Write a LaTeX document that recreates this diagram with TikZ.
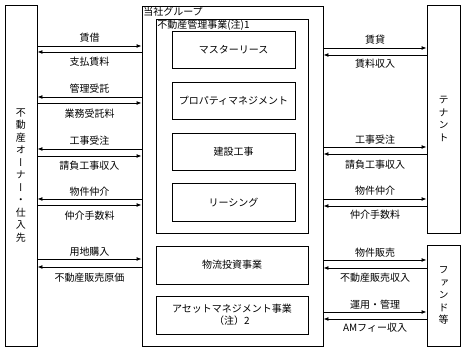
\documentclass[tikz,border=0pt]{standalone}
\usepackage{fontspec}
\setmainfont{Noto Sans CJK JP}
\newfontfamily\tatefont[RawFeature=+vert]{Noto Sans CJK JP}
\usetikzlibrary{arrows.meta}
\begin{document}
\begin{tikzpicture}[
                x=1pt, y=-1pt,
                every node/.style={
                        inner sep=0pt,
                        font=\fontsize{10}{12}\selectfont
                    },
                box/.style={draw, line width=0.9pt, align=center},
                tate/.style={
                        box,
                        font=\tatefont\fontsize{10}{12.5}\selectfont
                    },
                tag/.style={anchor=north west, inner sep=1.5pt},
                flow/.style={draw, line width=0.9pt, -{Latex[length=5pt, width=4pt]}}
            ]

            \useasboundingbox (0, 0) rectangle (464, 352);

            % outside parties
            \node[tate, minimum width=32, minimum height=341] (owner) at (21, 175.5)
                {不\\動\\産\\オ\\ー\\ナ\\ー\\・\\仕\\入\\先};
            \node[tate, minimum width=33, minimum height=228] (tenant) at (443.5, 119)
                {テ\\ナ\\ン\\ト};
            \node[tate, minimum width=33, minimum height=101] (fund) at (443.5, 295.5)
                {フ\\ァ\\ン\\ド\\等};

            % group
            \node[box, minimum width=181, minimum height=340] (group) at (232.5, 176) {};
            \node[tag] (grouptag) at (group.north west) {当社グループ};

            \node[box, minimum width=152, minimum height=214] (pm) at (232, 126) {};
            \node[tag] (pmtag) at (pm.north west) {不動産管理事業(注)1};

            \node[box, minimum width=123, minimum height=37] (master) at (233.5, 49.5) {マスターリース};
            \node[box, minimum width=123, minimum height=37] (property) at (233.5, 100.5) {プロパティマネジメント};
            \node[box, minimum width=123, minimum height=37] (build) at (233.5, 151.5) {建設工事};
            \node[box, minimum width=123, minimum height=38] (leasing) at (233.5, 202.5) {リーシング};

            \node[box, minimum width=152, minimum height=38] (logi) at (232, 265) {物流投資事業};
            \node[box, minimum width=152, minimum height=38] (am) at (232, 315)
                {アセットマネジメント事業\\（注）2};

            % owner side
            \draw[flow] (owner.east |- 0,46) -- (group.west |- 0,46);
            \draw[flow] (group.west |- 0,52) -- (owner.east |- 0,52);
            \node (l1) at (89.5, 38) {賃借};
            \node (l2) at (89.5, 62) {支払賃料};

            \draw[flow] (group.west |- 0,97) -- (owner.east |- 0,97);
            \draw[flow] (owner.east |- 0,103) -- (group.west |- 0,103);
            \node (l3) at (89.5, 89) {管理受託};
            \node (l4) at (89.5, 114) {業務受託料};

            \draw[flow] (group.west |- 0,149) -- (owner.east |- 0,149);
            \draw[flow] (owner.east |- 0,156) -- (group.west |- 0,156);
            \node (l5) at (89.5, 141) {工事受注};
            \node (l6) at (89.5, 166) {請負工事収入};

            \draw[flow] (group.west |- 0,199) -- (owner.east |- 0,199);
            \draw[flow] (owner.east |- 0,205) -- (group.west |- 0,205);
            \node (l7) at (89.5, 191.5) {物件仲介};
            \node (l8) at (89.5, 216) {仲介手数料};

            \draw[flow] (owner.east |- 0,259) -- (group.west |- 0,259);
            \draw[flow] (group.west |- 0,267) -- (owner.east |- 0,267);
            \node (l9) at (89.5, 252) {用地購入};
            \node (l10) at (89.5, 278) {不動産販売原価};

            % tenant side
            \draw[flow] (group.east |- 0,48) -- (tenant.west |- 0,48);
            \draw[flow] (tenant.west |- 0,55) -- (group.east |- 0,55);
            \node (r1) at (375, 39.5) {賃貸};
            \node (r2) at (375, 63.5) {賃料収入};

            \draw[flow] (group.east |- 0,147) -- (tenant.west |- 0,147);
            \draw[flow] (tenant.west |- 0,154) -- (group.east |- 0,154);
            \node (r3) at (375, 140) {工事受注};
            \node (r4) at (375, 165) {請負工事収入};

            \draw[flow] (group.east |- 0,199) -- (tenant.west |- 0,199);
            \draw[flow] (tenant.west |- 0,206) -- (group.east |- 0,206);
            \node (r5) at (375, 191) {物件仲介};
            \node (r6) at (375, 215) {仲介手数料};

            % fund side
            \draw[flow] (group.east |- 0,260) -- (fund.west |- 0,260);
            \draw[flow] (fund.west |- 0,268) -- (group.east |- 0,268);
            \node (r7) at (375, 253) {物件販売};
            \node (r8) at (375, 278) {不動産販売収入};

            \draw[flow] (group.east |- 0,312) -- (fund.west |- 0,312);
            \draw[flow] (fund.west |- 0,319) -- (group.east |- 0,319);
            \node (r9) at (375, 305) {運用・管理};
            \node (r10) at (375, 328) {AMフィー収入};

        \end{tikzpicture}
\end{document}
